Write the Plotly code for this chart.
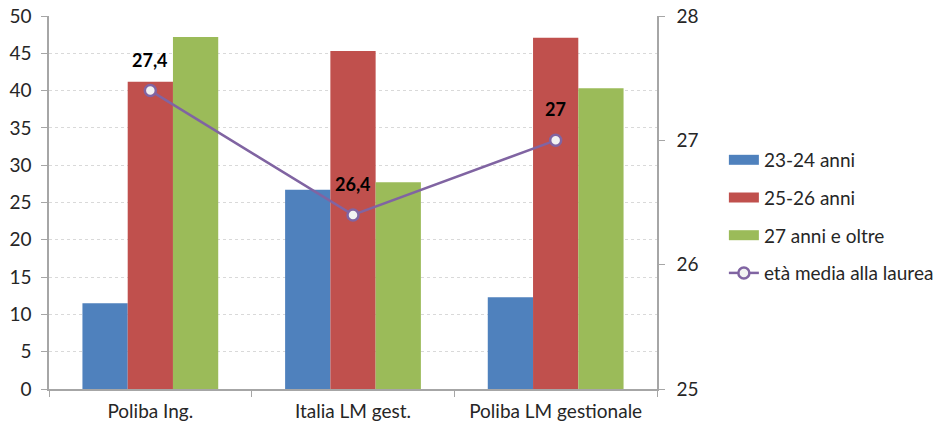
import plotly.graph_objects as go

categories = ["Poliba Ing.", "Italia LM gest.", "Poliba LM gestionale"]
s_23_24 = [11.5, 26.7, 12.3]
s_25_26 = [41.2, 45.3, 47.1]
s_27_plus = [47.2, 27.7, 40.3]
eta_media = [27.4, 26.4, 27.0]
eta_labels = ["27,4", "26,4", "27"]

bar_series = [
    ("23-24 anni", s_23_24, "#4F81BD"),
    ("25-26 anni", s_25_26, "#C0504D"),
    ("27 anni e oltre", s_27_plus, "#9BBB59"),
]
line_color = "#8064A2"

font = "Lato, Open Sans, sans-serif"
fig = go.Figure()
for name, vals, col in bar_series:
    fig.add_bar(x=categories, y=vals, name=name, legendgroup=name, showlegend=False,
                marker=dict(color=col, line=dict(width=0)))
    # legend-only swatch drawn as a thick rectangle
    fig.add_scatter(x=[categories[0]], y=[None], name=name, legendgroup=name, mode="lines",
                    line=dict(color=col, width=10), hoverinfo="skip")

fig.add_scatter(x=categories, y=eta_media, name="età media alla laurea", yaxis="y2",
                legendgroup="eta", mode="lines+markers",
                line=dict(color=line_color, width=2.5),
                marker=dict(symbol="circle", size=11, color="#F2F2F2",
                            line=dict(color=line_color, width=2.5)))

for cat, v, lab in zip(categories, eta_media, eta_labels):
    fig.add_annotation(x=cat, y=v, yref="y2", text="<b>" + lab + "</b>", showarrow=False,
                       yshift=31, font=dict(size=18, color="black", family=font))

axis_common = dict(showline=True, linecolor="#A6A6A6", linewidth=1.5, ticks="outside",
                   ticklen=6, tickcolor="#A6A6A6", automargin=False, ticklabeloverflow="allow")

fig.update_layout(
    width=940, height=429,
    margin=dict(l=49, r=283, t=16, b=40, autoexpand=False),
    paper_bgcolor="white", plot_bgcolor="white",
    font=dict(family=font, size=19, color="#262626"),
    barmode="group", bargap=0.33, bargroupgap=0,
    showlegend=True,
    legend=dict(x=1.11, y=0.665, xanchor="left", yanchor="top", font=dict(size=19),
                tracegroupgap=10, bgcolor="rgba(0,0,0,0)"),
    xaxis=dict(**axis_common, tickson="boundaries", showgrid=False, ticklabelstandoff=4),
    yaxis=dict(**axis_common, range=[0, 50], dtick=5, ticklabelstandoff=6,
               showgrid=True, gridcolor="#D9D9D9", griddash="dot", gridwidth=1, zeroline=False),
    yaxis2=dict(**axis_common, range=[25, 28], dtick=1, overlaying="y", side="right",
                ticklabelstandoff=8, showgrid=False, zeroline=False),
)
fig.write_html("out.html", config={"displayModeBar": False},
               post_script="document.body.style.margin='0';document.body.style.overflow='hidden';")
